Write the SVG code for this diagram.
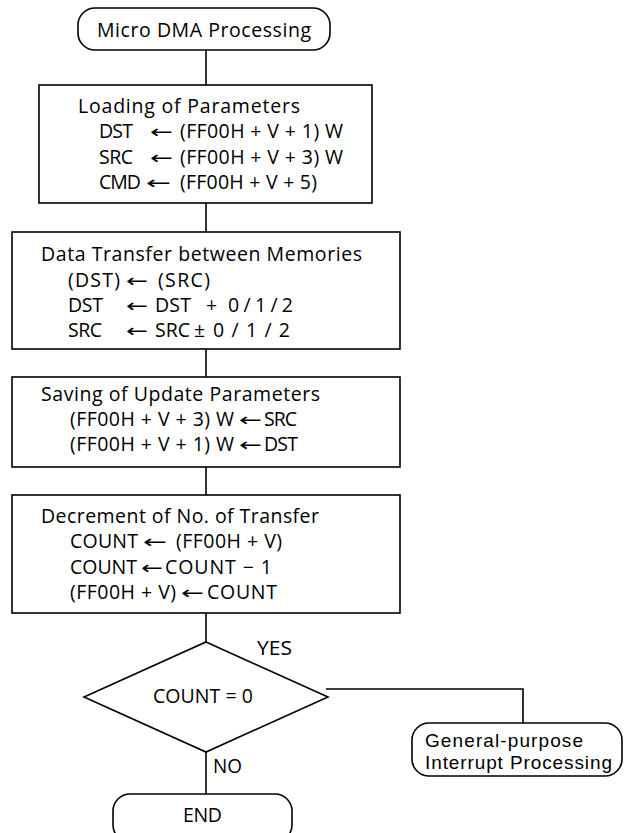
<svg xmlns="http://www.w3.org/2000/svg" width="634" height="833" viewBox="0 0 634 833">
  <style>
    .shape { fill: #fff; stroke: #000; stroke-width: 1.6; }
    .wire { fill: none; stroke: #000; stroke-width: 1.6; }
    text { font-family: "Open Sans", "Noto Sans", "DejaVu Sans", sans-serif; font-size: 19.5px; fill: #000; }
    .ar { font-family: "DejaVu Sans", sans-serif; font-size: 18px; }
    .tight { font-family: "Liberation Sans", Arial, sans-serif; font-size: 19px; }
  </style>
  <rect width="634" height="833" fill="#fff"/>

  <!-- flow lines and branch labels -->
  <g id="connectors">
    <path class="wire" d="M206 50 V85"/>
    <path class="wire" d="M206 203 V232"/>
    <path class="wire" d="M206 349 V377"/>
    <path class="wire" d="M206 467 V495"/>
    <path class="wire" d="M206 613 V642"/>
    <path class="wire" d="M206 752 V794"/>
    <path class="wire" d="M326 689 H523 V723"/>
    <text x="257" y="655" textLength="35" lengthAdjust="spacingAndGlyphs">YES</text>
    <text x="213" y="773" textLength="29" lengthAdjust="spacingAndGlyphs">NO</text>
  </g>

  <g id="start">
    <rect class="shape" x="78" y="8" width="252" height="42" rx="17"/>
    <text x="97" y="37" textLength="214">Micro DMA Processing</text>
  </g>

  <g id="load-params">
    <rect class="shape" x="39" y="85" width="333" height="118"/>
    <text x="78" y="113" textLength="222">Loading of Parameters</text>
    <text x="99" y="138" textLength="34">DST</text>
    <text class="ar" x="150" y="138" textLength="23" lengthAdjust="spacingAndGlyphs">←</text>
    <text x="180" y="138" textLength="163">(FF00H + V + 1) W</text>
    <text x="99" y="164" textLength="34">SRC</text>
    <text class="ar" x="150" y="164" textLength="23" lengthAdjust="spacingAndGlyphs">←</text>
    <text x="180" y="164" textLength="163">(FF00H + V + 3) W</text>
    <text x="99" y="189" textLength="42">CMD</text>
    <text class="ar" x="146" y="189" textLength="25" lengthAdjust="spacingAndGlyphs">←</text>
    <text x="180" y="189" textLength="137">(FF00H + V + 5)</text>
  </g>

  <g id="transfer">
    <rect class="shape" x="12" y="232" width="388" height="117"/>
    <text x="41" y="261" textLength="321">Data Transfer between Memories</text>
    <text x="68" y="287" textLength="52">(DST)</text>
    <text class="ar" x="126" y="287" textLength="22" lengthAdjust="spacingAndGlyphs">←</text>
    <text x="158" y="287" textLength="52">(SRC)</text>
    <text x="68" y="312" textLength="35">DST</text>
    <text class="ar" x="126" y="312" textLength="22" lengthAdjust="spacingAndGlyphs">←</text>
    <text x="155" y="312" textLength="36">DST</text>
    <text x="206" y="312">+</text>
    <text x="228" y="312" textLength="65">0 / 1 / 2</text>
    <text x="68" y="337" textLength="34">SRC</text>
    <text class="ar" x="126" y="337" textLength="22" lengthAdjust="spacingAndGlyphs">←</text>
    <text x="155" y="337" textLength="35">SRC</text>
    <text x="194" y="337">±</text>
    <text x="213" y="337" textLength="77">0 / 1 / 2</text>
  </g>

  <g id="save-params">
    <rect class="shape" x="12" y="377" width="388" height="90"/>
    <text x="41" y="401" textLength="279">Saving of Update Parameters</text>
    <text x="70" y="426" textLength="164">(FF00H + V + 3) W</text>
    <text class="ar" x="239" y="426" textLength="23" lengthAdjust="spacingAndGlyphs">←</text>
    <text x="264" y="426" textLength="33">SRC</text>
    <text x="70" y="451" textLength="164">(FF00H + V + 1) W</text>
    <text class="ar" x="239" y="451" textLength="23" lengthAdjust="spacingAndGlyphs">←</text>
    <text x="264" y="451" textLength="34">DST</text>
  </g>

  <g id="decrement">
    <rect class="shape" x="12" y="495" width="388" height="118"/>
    <text x="41" y="523" textLength="278">Decrement of No. of Transfer</text>
    <text x="70" y="548" textLength="68">COUNT</text>
    <text class="ar" x="143" y="548" textLength="24" lengthAdjust="spacingAndGlyphs">←</text>
    <text x="176" y="548" textLength="106">(FF00H + V)</text>
    <text x="70" y="574" textLength="67">COUNT</text>
    <text class="ar" x="141" y="574" textLength="22" lengthAdjust="spacingAndGlyphs">←</text>
    <text x="165" y="574" textLength="107">COUNT − 1</text>
    <text x="70" y="599" textLength="106">(FF00H + V)</text>
    <text class="ar" x="181" y="599" textLength="23" lengthAdjust="spacingAndGlyphs">←</text>
    <text x="207" y="599" textLength="70">COUNT</text>
  </g>

  <g id="count-check">
    <polygon class="shape" points="206,642 328,697 206,752 84,697"/>
    <text x="153" y="703" textLength="100">COUNT = 0</text>
  </g>

  <g id="interrupt">
    <rect class="shape" x="412" y="723" width="210" height="53" rx="17"/>
    <text class="tight" x="425" y="747" textLength="158">General-purpose</text>
    <text class="tight" x="425" y="769" textLength="187">Interrupt Processing</text>
  </g>

  <g id="end">
    <rect class="shape" x="113" y="794" width="179" height="48" rx="17"/>
    <text x="183" y="822" textLength="39">END</text>
  </g>
</svg>
